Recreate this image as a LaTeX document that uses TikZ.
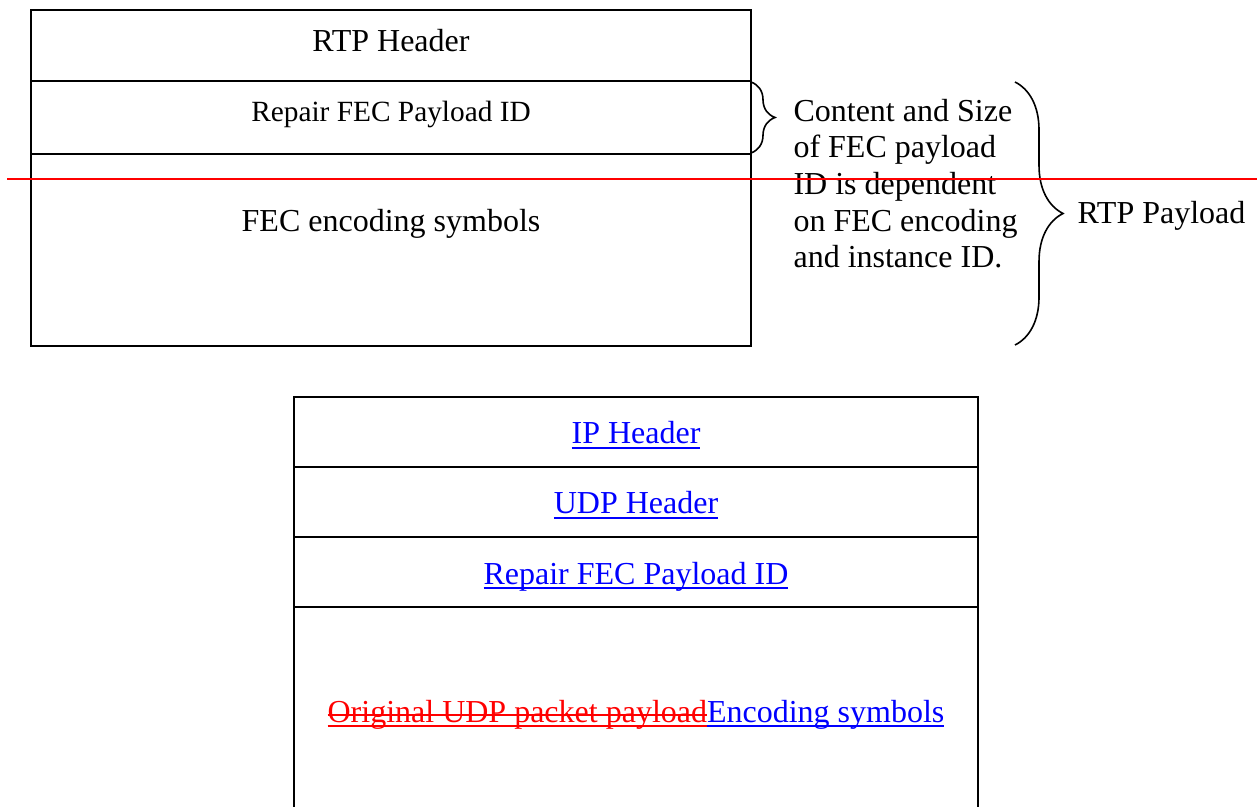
\documentclass[tikz,border=0pt]{standalone}
\usepackage{fontspec}
\setmainfont{Liberation Serif}
\usetikzlibrary{decorations.pathreplacing}

% underline, and underline with strike out
\newsavebox\linjebox
\newcommand\understrek[1]{\sbox\linjebox{#1}%
  \rlap{\rule[-2pt]{\wd\linjebox}{0.7pt}}\usebox\linjebox}
\newcommand\overstrek[1]{\sbox\linjebox{#1}%
  \rlap{\rule[-2pt]{\wd\linjebox}{0.7pt}}%
  \rlap{\rule[2.4pt]{\wd\linjebox}{0.7pt}}\usebox\linjebox}

\begin{document}
\begin{tikzpicture}
   [
    x=0.375pt, y=-0.375pt,
    every node/.style={inner sep=0pt, font=\fontsize{12}{13.75}\selectfont},
    felt/.style={draw, line width=0.75pt},
    tekst/.style={anchor=base},
    krull/.style={draw, line width=0.6pt, decorate,
                  decoration={brace, amplitude=#1}},
    strek/.style={draw=red, line width=0.75pt}
   ]

\useasboundingbox (0,0) rectangle (1257,807);

% RTP packet
\draw[felt] (31,10) rectangle (751,346);
\draw[felt] (31,81) rectangle (751,154);
\node[tekst] (rtphdr) at (391,52) {RTP Header};
\node[tekst, font=\fontsize{11}{13}\selectfont] (rtpfec) at (391,122) {Repair FEC Payload ID};
\node[tekst] (rtpsym) at (391,232) {FEC encoding symbols};

% small brace and note
\coordinate (fectop) at (751,82);
\coordinate (fecbot) at (751,153);
\draw[krull=9pt] (fectop) -- (fecbot);
\node[anchor=base west, align=left] (note) at (793,268)
    {Content and Size\\ of FEC payload\\ ID is dependent\\ on FEC encoding\\ and instance ID.};

% big brace
\coordinate (pltop) at (1015,82);
\coordinate (plbot) at (1015,345);
\draw[krull=18pt] (pltop) -- (plbot);
\node[anchor=base west] (payload) at (1077,224) {RTP Payload};

% UDP packet
\draw[felt] (294,807) -- (294,397) -- (978,397) -- (978,807);
\foreach \y in {467,537,607}
    \draw[felt] (294,\y) -- (978,\y);
\node[tekst, text=blue] (iphdr) at (636,444) {\understrek{IP Header}};
\node[tekst, text=blue] (udphdr) at (636,514) {\understrek{UDP Header}};
\node[tekst, text=blue] (udpfec) at (636,584) {\understrek{Repair FEC Payload ID}};
\node[tekst] (udpsym) at (636,722)
    {\textcolor{red}{\overstrek{Original UDP packet payload}}\textcolor{blue}{\understrek{Encoding symbols}}};

% red line
\coordinate (rl) at (7,179);
\coordinate (rr) at (1257,179);
\draw[strek] (rl) -- (rr);

\end{tikzpicture}
\end{document}
